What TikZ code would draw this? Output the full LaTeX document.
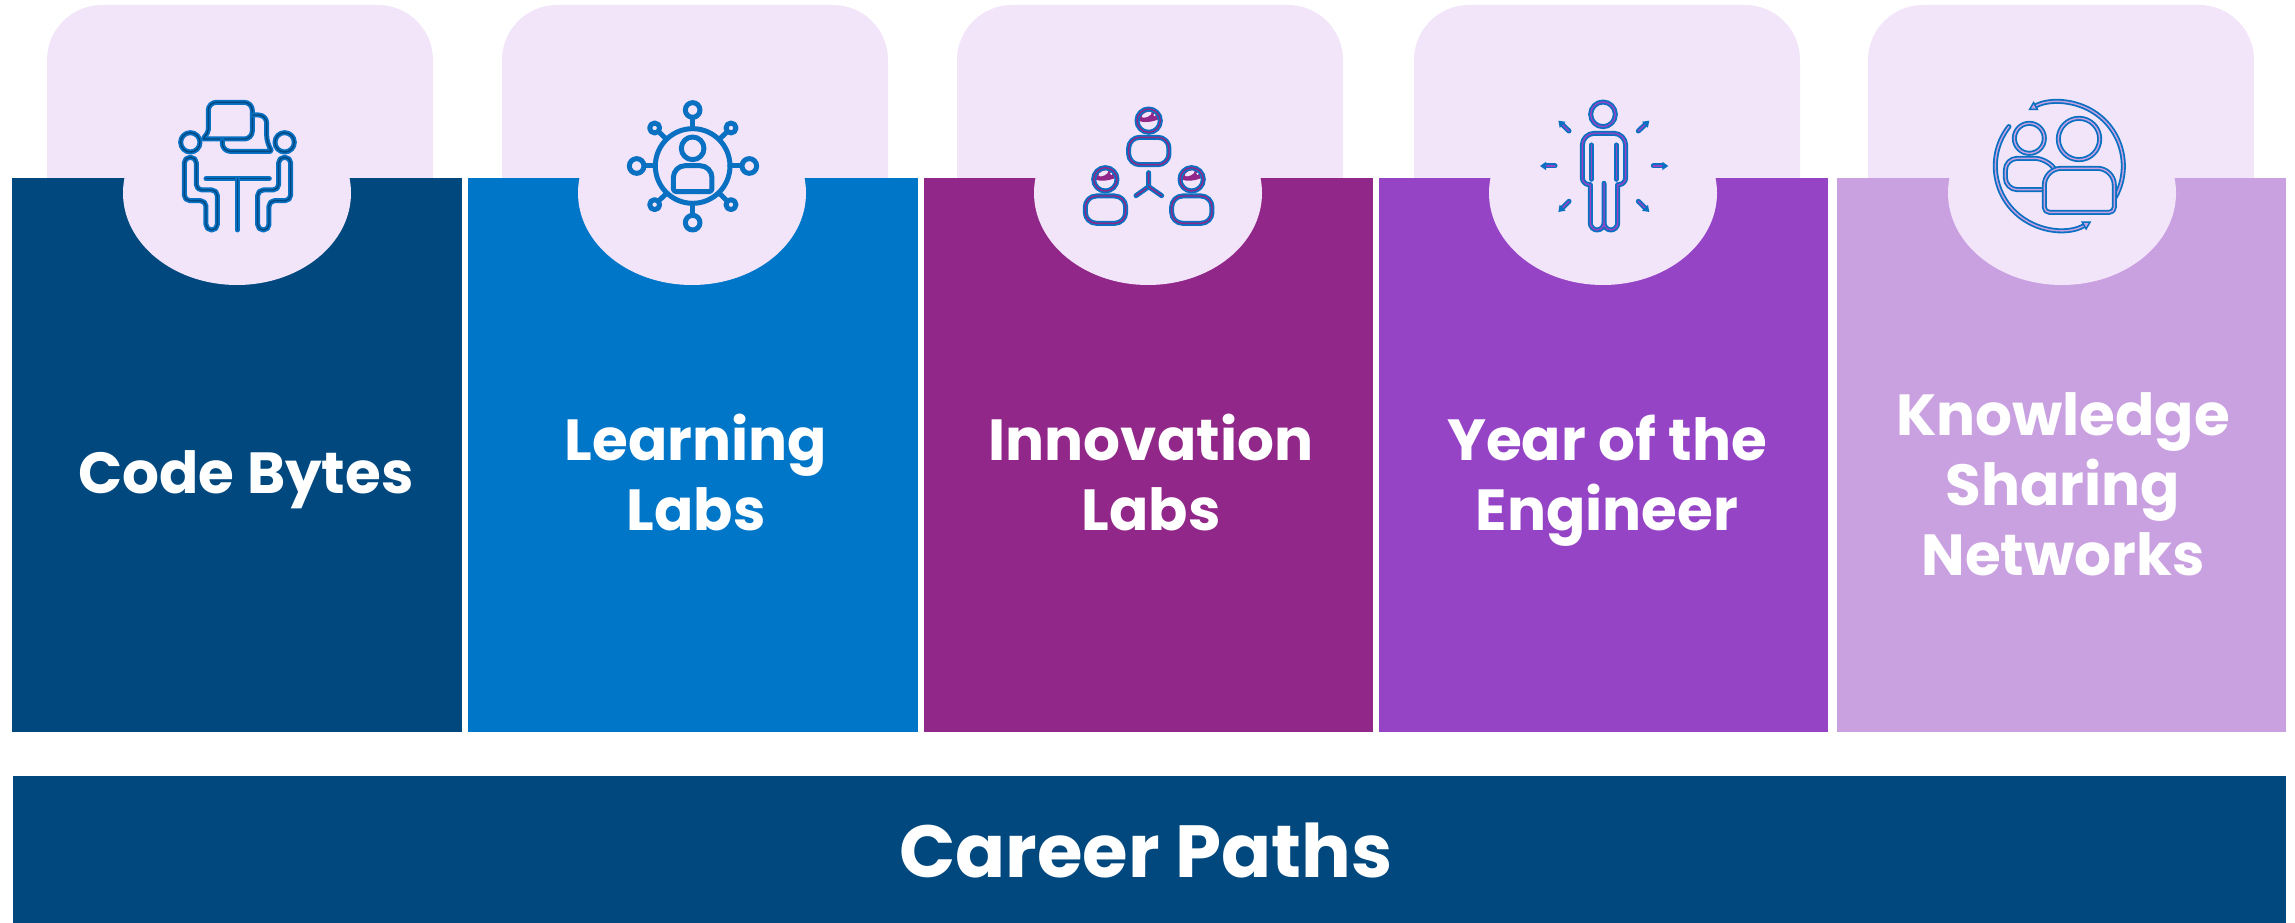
\documentclass[tikz,border=0pt]{standalone}
\usepackage{fontspec}
\usetikzlibrary{arrows.meta,calc}
\setmainfont{Poppins}
\definecolor{navypanel}{HTML}{01487F}
\definecolor{bluepanel}{HTML}{0076C8}
\definecolor{plumpanel}{HTML}{92278A}
\definecolor{violetpanel}{HTML}{9644C6}
\definecolor{lilacpanel}{HTML}{C9A1E1}
\definecolor{palecard}{HTML}{F2E5FA}
\definecolor{iconblue}{HTML}{0A70C2}
\tikzset{
  panellabel/.style={text=white,font=\bfseries\fontsize{58}{70}\selectfont,align=center},
  iconline/.style={draw=iconblue,double=#1,double distance=1.4pt,line width=1.8pt,line cap=round,line join=round},
  iconscope/.style={x=0.3333pt,y=-0.3333pt}
}
\begin{document}
\begin{tikzpicture}[x=1pt,y=-1pt]
\useasboundingbox (0,0) rectangle (2295,923);
% Cards behind the panels
\foreach \cardl in {47,502,957,1414,1868} {
    \fill[palecard,rounded corners=55pt] (\cardl,5) rectangle (\cardl+386,240);
}
% Panels with their round cut-outs
\foreach \pl/\pr/\cx/\col in {12/462/237/navypanel,468/918/692/bluepanel,924/1373/1148/plumpanel,1379/1828/1603/violetpanel,1837/2286/2062/lilacpanel} {
    \fill[\col] (\pl,178) rectangle (\pr,732);
    \fill[palecard] (\cx,193) ellipse (114 and 92);
}
\fill[navypanel] (13,776) rectangle (2286,923);

% First icon - two people at a table
\begin{scope}[shift={(120,80)},iconscope]
\foreach \mirror in {1,-1} {
  \begin{scope}[shift={(352.5,0)},xscale=\mirror,shift={(-352.5,0)}]
    \draw[iconline=navypanel] (211,187) circle (29);
    \draw[iconline=navypanel,rounded corners=5.5pt] (193,232) -- (229,232) -- (229,330) -- (292,330) -- (292,450) -- (258,450) -- (258,362) -- (193,362) -- cycle;
  \end{scope}
}
\draw[iconline=navypanel] (275,177) [rounded corners=2pt] -- (249,177) -- (265,155) [rounded corners=8pt] -- (265,67) -- (397,67) -- (397,177) -- cycle;
\draw[iconline=navypanel,rounded corners=8pt] (397,105) -- (440,105) -- (440,190) [rounded corners=2pt] -- (456,214) [rounded corners=8pt] -- (307,214) -- (307,181);
\draw[iconline=navypanel] (258,296) -- (448,296);
\draw[iconline=navypanel] (352,296) -- (352,450);
\end{scope}

% Second icon - person in a network
\begin{scope}[shift={(580,80)},iconscope]
\draw[iconline=iconblue] (338,258) circle (112);
\foreach \sx/\sy/\ex/\ey in {338/90/338/146,338/428/338/370,170/258/226/258,508/258/450/258} {
    \draw[iconline=iconblue] (\sx,\sy) circle (22);
    \draw[iconline=iconblue] (\ex,\ey) -- ($(\ex,\ey)!0.5!(\sx,\sy)$);
}
\foreach \sx/\sy/\ex/\ey in {224/144/258/176,453/144/420/176,224/374/258/342,453/374/420/342} {
    \draw[iconline=iconblue] (\sx,\sy) circle (15);
    \draw[iconline=iconblue] (\ex,\ey) -- ($(\ex,\ey)!0.55!(\sx,\sy)$);
}
\draw[iconline=iconblue] (338,205) circle (34);
\draw[iconline=iconblue] (338,335) [rounded corners=3pt] -- (280,335) [rounded corners=12pt] -- (280,257) -- (396,257) [rounded corners=3pt] -- (396,335) -- cycle;
\end{scope}

% Third icon - three people
\begin{scope}[shift={(1030,80)},iconscope]
\foreach \hx/\hy in {356/122,226/298,485/298} {
  \begin{scope}[shift={(\hx,\hy)}]
    \fill[plumpanel] (-33,0) .. controls (-15,7) and (12,5) .. (33,-6) arc (-10:-180:33.5) -- cycle;
    \fill[palecard,shift={(-6,-18)},rotate=25] (0,0) ellipse (16 and 7);
    \fill[palecard] (18,-17) circle (4);
    \draw[iconline=plumpanel] (0,0) circle (35);
    \draw[iconline=plumpanel,rounded corners=11pt] (-60,132) -- (61,132) -- (61,50) -- (-60,50) -- cycle;
  \end{scope}
}
\draw[iconline=plumpanel] (356,278) -- (356,320) -- (318,347);
\draw[iconline=plumpanel] (356,320) -- (395,347);
\end{scope}

% Fourth icon - person with arrows
\begin{scope}[shift={(1490,80)},iconscope]
\draw[iconline=violetpanel] (339,103) circle (37);
\draw[iconline=violetpanel] (304,195) -- (304,298);
\draw[iconline=violetpanel] (379,195) -- (379,298);
\draw[iconline=violetpanel] (342,310) [rounded corners=7pt] -- (342,450) -- (301,450) [sharp corners] -- (301,314) [rounded corners=7pt] -- (277,314) [rounded corners=12pt] -- (277,160) -- (407,160) [rounded corners=7pt] -- (407,314) [sharp corners] -- (383,314) [rounded corners=7pt] -- (383,450) -- (342,450) -- (342,430);
\foreach \ax/\ay/\bx/\by in {195/258/150/258,490/258/535/258,237/153/205/122,445/153/478/122,237/364/205/396,445/364/478/396} {
    \draw[iconline=violetpanel,-{Triangle[length=6pt,width=8pt]}] (\ax,\ay) -- (\bx,\by);
}
\end{scope}

% Fifth icon - two people inside circling arrows
\begin{scope}[shift={(1940,80)},iconscope]
\draw[iconline=lilacpanel,-{Triangle[length=9pt,width=10pt,fill=lilacpanel,line width=1.5pt]}] (358,258) ++(30:192) arc (30:-119:192);
\draw[iconline=lilacpanel,-{Triangle[length=9pt,width=10pt,fill=lilacpanel,line width=1.5pt]}] (358,258) ++(218:192) arc (218:60:192);
\draw[iconline=lilacpanel] (268,175) circle (45);
\draw[iconline=lilacpanel] (417,177) circle (62);
\draw[iconline=lilacpanel,rounded corners=12pt] (312,329) -- (196,329) -- (196,235) -- (320,235) -- (342,265);
\draw[iconline=lilacpanel] (418,397) [rounded corners=5pt] -- (313,397) [rounded corners=17pt] -- (313,265) -- (523,265) [rounded corners=5pt] -- (523,397) -- cycle;
\end{scope}

% Labels
\node[panellabel] (codebytes) at (246,480) {Code Bytes};
\node[panellabel] (learninglabs) at (696,472.5) {Learning\\Labs};
\node[panellabel] (innovationlabs) at (1151,472.5) {Innovation\\Labs};
\node[panellabel] (yearengineer) at (1607,481) {Year of the\\Engineer};
\node[panellabel] (knowledge) at (2063,484) {Knowledge\\Sharing\\Networks};
\node[panellabel,font=\bfseries\fontsize{73.8}{80}\selectfont] (careerpaths) at (1146,850) {Career Paths};
\end{tikzpicture}
\end{document}
